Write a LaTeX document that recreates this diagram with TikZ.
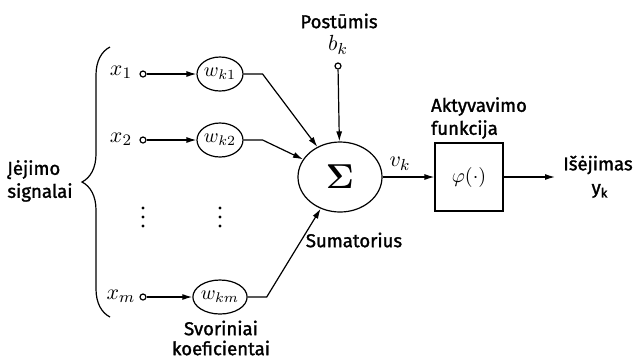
\documentclass[tikz,border=0pt]{standalone}
\usepackage{amsmath,bm}
\usepackage{fontspec}
\newfontfamily\lblfont{Fira Sans}[FakeBold=1.5]
\usetikzlibrary{shapes,arrows.meta,positioning,decorations.pathreplacing}

\begin{document}
\begin{tikzpicture}[x=0.5pt, y=-0.5pt,
    sig/.style={font=\fontsize{11}{13}\selectfont},
    lbl/.style={font=\lblfont\fontsize{9.3}{11.5}\selectfont},
    inp/.style={draw, circle, line width=0.6pt, inner sep=0pt, minimum size=3pt},
    wgt/.style={draw, ellipse, line width=0.6pt, inner sep=0pt, minimum width=23pt, minimum height=17pt},
    arr/.style={-{Latex[length=5pt,width=3pt]}, line width=0.6pt}]
    \useasboundingbox (0,0) rectangle (637,361);

    % Input signals
    \coordinate (brtop) at (110,47);
    \coordinate (brbot) at (110,317);
    \draw[line width=0.6pt, decorate, decoration={brace, amplitude=14pt}] (brbot) -- (brtop);
    \node[lbl, align=left] (ieji) at (40,181) {Įėjimo\\signalai};

    \node[sig] (x1) at (121,72) {$x_1$};
    \node[inp] (x1in) at (143,74) {};
    \node[wgt] (wk1) at (220,74) {$w_{k1}$};

    \node[sig] (x2) at (121,139) {$x_2$};
    \node[inp] (x2in) at (143,140) {};
    \node[wgt] (wk2) at (220,140) {$w_{k2}$};

    % vertical dots
    \foreach \xd in {143,220}
        \foreach \yd in {208,217,226}
            \fill (\xd,\yd) circle (0.8pt);

    \node[sig] (xm) at (121,296) {$x_m$};
    \node[inp] (xmin) at (143,297) {};
    \node[wgt] (wkm) at (220,297) {$w_{km}$};

    \node[lbl, align=center, inner sep=1pt, font=\lblfont\fontsize{9.3}{10}\selectfont] (svor) at (221,338) {Svoriniai\\koeficientai};

    % Summing junction
    \node[draw, ellipse, line width=0.6pt, minimum width=42pt, minimum height=35pt] (sum) at (340,177)
        {\fontsize{16}{18}\selectfont$\bm{\Sigma}$};
    \node[lbl] (sumat) at (354,240) {Sumatorius};

    \node[lbl] (post) at (339,21) {Postūmis};
    \node[sig] (bk) at (338,45) {$b_k$};
    \node[inp] (bin) at (338,66) {};

    \draw[arr] (x1in) -- (wk1);
    \draw[arr] (x2in) -- (wk2);
    \draw[arr] (xmin) -- (wkm);
    \draw[arr] (wk1.east) -- ++(19,0) -- (sum);
    \draw[arr] (wk2.east) -- ++(19,0) -- (sum);
    \draw[arr] (wkm.east) -- ++(19,0) -- (sum);
    \draw[arr] (bin) -- (sum);

    % Activation
    \node[draw, line width=0.6pt, minimum width=34pt, minimum height=34pt] (act) at (469,177) {$\varphi(\cdot)$};
    \node[lbl, align=left, anchor=west] (aktf) at (424,118) {Aktyvavimo\\funkcija};
    \node[sig] (vk) at (400,164) {$v_k$};
    \draw[arr] (sum) -- (act);

    % Output
    \coordinate (out) at (555,177);
    \draw[arr] (act) -- (out);
    \node[lbl] (isej) at (598,165) {Išėjimas};
    \node[lbl] (yk) at (600,191) {y\textsubscript{k}};
\end{tikzpicture}
\end{document}
